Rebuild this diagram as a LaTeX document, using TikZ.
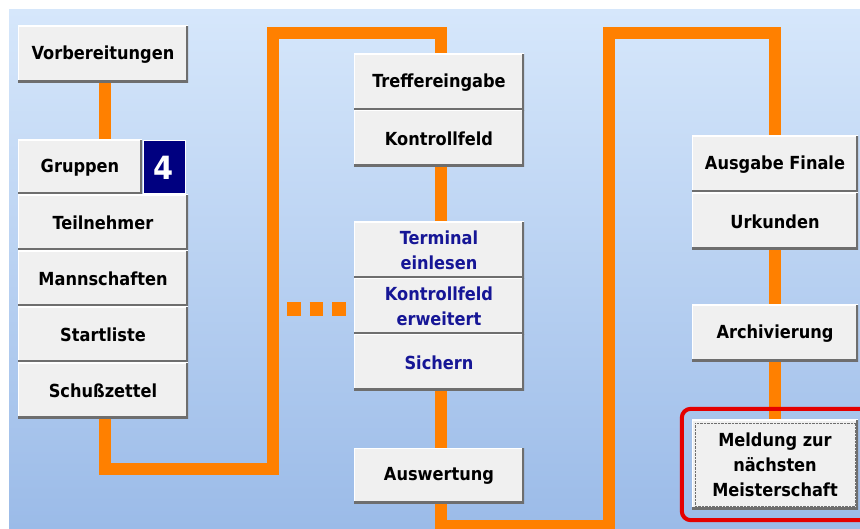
\documentclass[tikz,border=0pt]{standalone}
\usepackage{fontspec}
\setmainfont{DejaVu Sans Condensed}
\usetikzlibrary{positioning}

\definecolor{btnface}{RGB}{240,240,240}
\definecolor{btnshade}{RGB}{110,110,110}
\definecolor{btnblue}{RGB}{22,22,150}
\definecolor{pipeorange}{RGB}{255,128,0}
\definecolor{bgtop}{RGB}{214,231,251}
\definecolor{bgbottom}{RGB}{155,187,232}
\definecolor{boxnavy}{RGB}{0,0,128}
\definecolor{framered}{RGB}{228,0,0}

\pgfdeclarelayer{bg}
\pgfdeclarelayer{pipes}
\pgfsetlayers{bg,pipes,main}

\begin{document}
\begin{tikzpicture}[
    x=1pt, y=1pt,
    node distance=56pt,
    btn/.style={
        rectangle,
        fill=btnface,
        minimum width=170pt,
        minimum height=56pt,
        inner sep=0pt,
        align=center,
        font=\fontsize{18}{25}\selectfont\bfseries,
        text=black,
        path picture={
            \draw[white, line width=2pt] (path picture bounding box.south west) |- (path picture bounding box.north east);
            \draw[btnshade, line width=5pt] (path picture bounding box.south west) -| (path picture bounding box.north east);
        }
    },
    bluebtn/.style={
        btn,
        text=btnblue
    },
    pipe/.style={
        draw=pipeorange,
        line width=11.5pt
    },
    dots/.style={
        draw=pipeorange,
        line width=13.5pt,
        dash pattern=on 13.5pt off 9pt
    },
    focusframe/.style={
        draw=framered,
        line width=4pt,
        rounded corners=9pt
    }
]

\useasboundingbox (0,0) rectangle (860,528);

% Background
\begin{pgfonlayer}{bg}
\fill[white] (0,0) rectangle (860,528);
\shade[top color=bgtop, bottom color=bgbottom] (9,0) rectangle (860,518);
\end{pgfonlayer}

% Left column
\node [btn, minimum height=57pt] (vorb) at (103,473.5) {Vorbereitungen};
\node [btn, minimum width=124pt, minimum height=55pt] (grup) at (80,360.5) {Gruppen};
\node [right of=grup, node distance=84pt, minimum width=42pt, minimum height=53pt,
       fill=boxnavy, draw=white, line width=1pt, text=white,
       font=\fontsize{32}{32}\selectfont\bfseries] (anzahl) {4};
\node [btn] (teil) at (103,305) {Teilnehmer};
\node [btn, below of=teil] (mann) {Mannschaften};
\node [btn, below of=mann] (start) {Startliste};
\node [btn, below of=start] (schuss) {Schußzettel};

% Middle column
\node [btn, minimum height=57pt] (treffer) at (439,445.5) {Treffereingabe};
\node [btn, below of=treffer] (kontr) {Kontrollfeld};
\node [bluebtn, minimum height=57pt] (term) at (439,277.5) {Terminal\\einlesen};
\node [bluebtn, below of=term] (kerw) {Kontrollfeld\\erweitert};
\node [bluebtn, below of=kerw] (sich) {Sichern};
\node [btn, minimum height=55pt] (ausw) at (439,52.5) {Auswertung};

% Right column
\node [btn, minimum width=166pt, minimum height=57pt] (ausg) at (775,363.5) {Ausgabe Finale};
\node [btn, minimum width=166pt, minimum height=57pt, below of=ausg, node distance=57pt] (urk) {Urkunden};
\node [btn, minimum width=166pt, minimum height=57pt] (arch) at (775,194.5) {Archivierung};
\node [btn, minimum width=166pt, minimum height=89pt] (meld) at (775,63.5) {Meldung zur\\nächsten\\Meisterschaft};

% Focus
\draw [densely dotted, btnshade] ([shift={(3,3)}]meld.south west) rectangle ([shift={(-3,-3)}]meld.north east);
\draw [focusframe] ([shift={(-10,-11)}]meld.south west) rectangle ([shift={(40,11)}]meld.north east);

% Pipe
\coordinate (p1) at (273,59);
\coordinate (p2) at (441,495);
\coordinate (p3) at (609,2);
\coordinate (p4) at (775,495);
\begin{pgfonlayer}{pipes}
\draw [pipe] ([xshift=2pt]vorb.south) |- (p1) |- (p2) |- (p3) |- (p4) -- (meld.north);
\end{pgfonlayer}

% Dots
\coordinate (d1) at (287,219);
\coordinate (d2) at (346,219);
\draw [dots] (d1) -- (d2);

\end{tikzpicture}
\end{document}
